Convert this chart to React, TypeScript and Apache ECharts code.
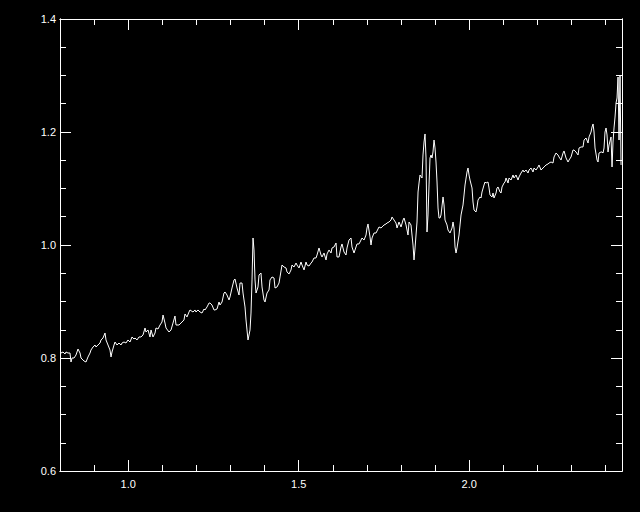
import React, { useEffect, useRef } from "react";
import * as echarts from "echarts";

const wavelength: number[] = [
  0.8029, 0.8088, 0.8147, 0.8176, 0.8235, 0.8293, 0.8323, 0.8352, 0.8411, 0.8469,
  0.8528, 0.8587, 0.8616, 0.8704, 0.8762, 0.8821, 0.8880, 0.8909, 0.8968, 0.9026,
  0.9056, 0.9114, 0.9173, 0.9202, 0.9261, 0.9320, 0.9349, 0.9408, 0.9466, 0.9496,
  0.9525, 0.9584, 0.9613, 0.9672, 0.9730, 0.9789, 0.9818, 0.9877, 0.9935, 0.9994,
  1.0053, 1.0111, 1.0170, 1.0199, 1.0258, 1.0317, 1.0375, 1.0434, 1.0493, 1.0522,
  1.0581, 1.0639, 1.0669, 1.0727, 1.0786, 1.0815, 1.0874, 1.0933, 1.0991, 1.1021,
  1.1079, 1.1109, 1.1196, 1.1255, 1.1314, 1.1372, 1.1402, 1.1490, 1.1548, 1.1636,
  1.1666, 1.1724, 1.1783, 1.1812, 1.1900, 1.1959, 1.1988, 1.2047, 1.2106, 1.2164,
  1.2223, 1.2252, 1.2311, 1.2370, 1.2399, 1.2457, 1.2516, 1.2545, 1.2604, 1.2663,
  1.2692, 1.2751, 1.2809, 1.2839, 1.2897, 1.2956, 1.2985, 1.3044, 1.3103, 1.3132,
  1.3191, 1.3249, 1.3279, 1.3337, 1.3367, 1.3425, 1.3455, 1.3484, 1.3513, 1.3572,
  1.3601, 1.3631, 1.3660, 1.3689, 1.3719, 1.3748, 1.3806, 1.3836, 1.3894, 1.3924,
  1.3982, 1.4012, 1.4070, 1.4129, 1.4158, 1.4217, 1.4276, 1.4305, 1.4364, 1.4422,
  1.4452, 1.4510, 1.4569, 1.4628, 1.4657, 1.4716, 1.4774, 1.4804, 1.4862, 1.4921,
  1.4950, 1.5009, 1.5067, 1.5097, 1.5156, 1.5214, 1.5244, 1.5302, 1.5361, 1.5390,
  1.5449, 1.5507, 1.5537, 1.5595, 1.5654, 1.5683, 1.5742, 1.5801, 1.5830, 1.5889,
  1.5947, 1.5977, 1.6035, 1.6094, 1.6123, 1.6182, 1.6240, 1.6270, 1.6328, 1.6387,
  1.6416, 1.6475, 1.6534, 1.6563, 1.6622, 1.6680, 1.6710, 1.6768, 1.6827, 1.6856,
  1.6915, 1.6974, 1.7003, 1.7032, 1.7091, 1.7120, 1.7150, 1.7208, 1.7267, 1.7296,
  1.7355, 1.7413, 1.7443, 1.7501, 1.7560, 1.7589, 1.7648, 1.7707, 1.7736, 1.7795,
  1.7853, 1.7883, 1.7941, 1.8000, 1.8059, 1.8088, 1.8147, 1.8205, 1.8235, 1.8293,
  1.8352, 1.8381, 1.8411, 1.8469, 1.8499, 1.8528, 1.8557, 1.8616, 1.8645, 1.8675,
  1.8704, 1.8733, 1.8762, 1.8792, 1.8821, 1.8850, 1.8880, 1.8909, 1.8938, 1.8968,
  1.8997, 1.9026, 1.9056, 1.9085, 1.9114, 1.9144, 1.9173, 1.9232, 1.9261, 1.9290,
  1.9349, 1.9378, 1.9437, 1.9496, 1.9525, 1.9554, 1.9584, 1.9613, 1.9642, 1.9701,
  1.9730, 1.9760, 1.9818, 1.9848, 1.9877, 1.9935, 1.9965, 1.9994, 2.0023, 2.0082,
  2.0111, 2.0141, 2.0199, 2.0229, 2.0258, 2.0317, 2.0346, 2.0375, 2.0434, 2.0463,
  2.0493, 2.0551, 2.0581, 2.0610, 2.0669, 2.0698, 2.0727, 2.0786, 2.0815, 2.0845,
  2.0903, 2.0933, 2.0962, 2.1021, 2.1050, 2.1079, 2.1138, 2.1167, 2.1226, 2.1284,
  2.1314, 2.1372, 2.1431, 2.1460, 2.1519, 2.1578, 2.1607, 2.1666, 2.1724, 2.1754,
  2.1812, 2.1871, 2.1900, 2.1959, 2.2018, 2.2047, 2.2106, 2.2164, 2.2194, 2.2252,
  2.2311, 2.2340, 2.2399, 2.2457, 2.2487, 2.2545, 2.2604, 2.2633, 2.2692, 2.2751,
  2.2780, 2.2839, 2.2897, 2.2927, 2.2985, 2.3044, 2.3073, 2.3132, 2.3191, 2.3220,
  2.3279, 2.3337, 2.3367, 2.3425, 2.3484, 2.3513, 2.3572, 2.3601, 2.3631, 2.3660,
  2.3689, 2.3748, 2.3777, 2.3806, 2.3865, 2.3894, 2.3924, 2.3953, 2.3982, 2.4012,
  2.4041, 2.4070, 2.4100, 2.4158, 2.4188, 2.4217, 2.4246, 2.4276, 2.4305, 2.4334,
  2.4364, 2.4393, 2.4422, 2.4452,
];

const flux: number[] = [
  0.8088, 0.8106, 0.8071, 0.8106, 0.8088, 0.8088, 0.7929, 0.8000, 0.8000, 0.8053,
  0.8159, 0.8088, 0.8000, 0.7947, 0.7929, 0.8018, 0.8088, 0.8142, 0.8195, 0.8230,
  0.8195, 0.8230, 0.8265, 0.8319, 0.8354, 0.8442, 0.8319, 0.8230, 0.8142, 0.8018,
  0.8106, 0.8230, 0.8283, 0.8230, 0.8265, 0.8230, 0.8265, 0.8283, 0.8265, 0.8319,
  0.8283, 0.8372, 0.8336, 0.8354, 0.8319, 0.8372, 0.8372, 0.8407, 0.8531, 0.8460,
  0.8496, 0.8372, 0.8496, 0.8372, 0.8442, 0.8531, 0.8513, 0.8584, 0.8637, 0.8761,
  0.8619, 0.8531, 0.8460, 0.8496, 0.8619, 0.8743, 0.8584, 0.8584, 0.8619, 0.8673,
  0.8779, 0.8726, 0.8814, 0.8850, 0.8814, 0.8850, 0.8814, 0.8850, 0.8814, 0.8796,
  0.8867, 0.8850, 0.8903, 0.8973, 0.8973, 0.8938, 0.8850, 0.8850, 0.8867, 0.8991,
  0.8938, 0.8991, 0.9150, 0.9168, 0.9115, 0.9027, 0.9080, 0.9239, 0.9381, 0.9398,
  0.9239, 0.9115, 0.9327, 0.9327, 0.9150, 0.8903, 0.8673, 0.8496, 0.8319, 0.8496,
  0.8796, 0.9381, 1.0124, 0.9912, 0.9381, 0.9150, 0.9257, 0.9469, 0.9504, 0.9257,
  0.9027, 0.8991, 0.9150, 0.9204, 0.9381, 0.9434, 0.9416, 0.9239, 0.9257, 0.9327,
  0.9434, 0.9646, 0.9611, 0.9593, 0.9522, 0.9487, 0.9558, 0.9646, 0.9611, 0.9681,
  0.9646, 0.9593, 0.9699, 0.9646, 0.9558, 0.9699, 0.9646, 0.9628, 0.9681, 0.9699,
  0.9770, 0.9770, 0.9823, 0.9947, 0.9823, 0.9788, 0.9858, 0.9735, 0.9841, 0.9912,
  0.9858, 0.9947, 0.9965, 1.0035, 0.9788, 0.9788, 0.9965, 1.0018, 0.9876, 0.9823,
  0.9947, 1.0088, 1.0124, 0.9965, 0.9858, 0.9965, 1.0018, 1.0018, 1.0088, 1.0124,
  1.0088, 1.0177, 1.0301, 1.0372, 1.0142, 1.0000, 1.0124, 1.0212, 1.0212, 1.0248,
  1.0319, 1.0301, 1.0319, 1.0354, 1.0372, 1.0389, 1.0407, 1.0442, 1.0496, 1.0442,
  1.0389, 1.0301, 1.0407, 1.0319, 1.0442, 1.0478, 1.0354, 1.0177, 1.0407, 1.0354,
  0.9999, 0.9735, 0.9947, 1.0407, 1.0938, 1.1097, 1.1239, 1.1186, 1.1593, 1.1823,
  1.1965, 1.1540, 1.0230, 1.0531, 1.1062, 1.1540, 1.1593, 1.1540, 1.1646, 1.1858,
  1.1717, 1.1469, 1.1115, 1.0655, 1.0478, 1.0478, 1.0531, 1.0850, 1.0708, 1.0442,
  1.0354, 1.0265, 1.0212, 1.0301, 1.0407, 1.0301, 0.9965, 0.9858, 0.9947, 1.0177,
  1.0354, 1.0531, 1.0708, 1.0885, 1.1062, 1.1292, 1.1363, 1.1239, 1.1150, 1.1009,
  1.0761, 1.0619, 1.0584, 1.0673, 1.0796, 1.0850, 1.0832, 1.0938, 1.1062, 1.1115,
  1.1097, 1.1115, 1.1009, 1.0885, 1.0850, 1.0920, 1.0832, 1.0920, 1.1009, 1.1027,
  1.0938, 1.0920, 1.1027, 1.1097, 1.1115, 1.1186, 1.1097, 1.1186, 1.1150, 1.1239,
  1.1186, 1.1239, 1.1150, 1.1204, 1.1274, 1.1327, 1.1292, 1.1327, 1.1274, 1.1327,
  1.1363, 1.1292, 1.1363, 1.1327, 1.1381, 1.1416, 1.1327, 1.1363, 1.1381, 1.1416,
  1.1434, 1.1451, 1.1469, 1.1451, 1.1558, 1.1628, 1.1593, 1.1558, 1.1504, 1.1628,
  1.1664, 1.1540, 1.1469, 1.1504, 1.1558, 1.1681, 1.1681, 1.1646, 1.1593, 1.1717,
  1.1735, 1.1735, 1.1858, 1.1894, 1.1805, 1.1912, 1.2000, 1.2088, 1.2142, 1.2000,
  1.1717, 1.1504, 1.1469, 1.1628, 1.1646, 1.1646, 1.1628, 1.1717, 1.2000, 1.2071,
  1.1947, 1.1646, 1.1770, 1.1912, 1.1381, 1.1823, 1.2071, 1.2265, 1.2513, 1.2602,
  1.2973, 1.1858, 1.2991, 1.1416,
];

const xMin = 0.8;
const xMax = 2.448;
const yMin = 0.6;
const yMax = 1.4;
const xMajorTicks: number[] = [1.0, 1.5, 2.0];
const xMinorStep = 0.1;
const yMajorStep = 0.2;
const yMinorStep = 0.05;

export default function App() {
  const ref = useRef<HTMLDivElement>(null);

  useEffect(() => {
    if (!ref.current) return;
    const chart = echarts.init(ref.current, null, { renderer: "svg" });
    const white = "#ffffff";
    const font = "'Liberation Sans', Arial, sans-serif";
    const baseX = {
      type: "value" as const,
      min: xMin,
      max: xMax,
      splitLine: { show: false },
      axisLine: { show: true, onZero: false, lineStyle: { color: white, width: 1 } },
    };
    const baseY = {
      type: "value" as const,
      min: yMin,
      max: yMax,
      splitLine: { show: false },
      axisLine: { show: true, onZero: false, lineStyle: { color: white, width: 1 } },
    };
    chart.setOption({
      animation: false,
      backgroundColor: "#000000",
      grid: { left: 60, top: 19, right: 18, bottom: 41, containLabel: false },
      xAxis: [
        {
          ...baseX,
          position: "bottom",
          interval: xMinorStep,
          axisTick: { show: true, inside: true, length: 6, lineStyle: { color: white } },
          axisLabel: { show: false },
        },
        {
          ...baseX,
          position: "bottom",
          axisTick: { show: true, inside: true, length: 11, customValues: xMajorTicks, lineStyle: { color: white } },
          axisLabel: {
            show: true,
            customValues: xMajorTicks,
            formatter: (v: number) => v.toFixed(1),
            color: white,
            fontSize: 11,
            fontFamily: font,
            margin: 7,
          },
        },
        {
          ...baseX,
          position: "top",
          interval: xMinorStep,
          axisTick: { show: true, inside: true, length: 6, lineStyle: { color: white } },
          axisLabel: { show: false },
        },
        {
          ...baseX,
          position: "top",
          axisTick: { show: true, inside: true, length: 11, customValues: xMajorTicks, lineStyle: { color: white } },
          axisLabel: { show: false, customValues: xMajorTicks },
        },
      ],
      yAxis: [
        {
          ...baseY,
          position: "left",
          interval: yMinorStep,
          axisTick: { show: true, inside: true, length: 6, lineStyle: { color: white } },
          axisLabel: { show: false },
        },
        {
          ...baseY,
          position: "left",
          interval: yMajorStep,
          axisTick: { show: true, inside: true, length: 11, lineStyle: { color: white } },
          axisLabel: {
            show: true,
            formatter: (v: number) => v.toFixed(1),
            color: white,
            fontSize: 11,
            fontFamily: font,
            margin: 4,
          },
        },
        {
          ...baseY,
          position: "right",
          interval: yMinorStep,
          axisTick: { show: true, inside: true, length: 6, lineStyle: { color: white } },
          axisLabel: { show: false },
        },
        {
          ...baseY,
          position: "right",
          interval: yMajorStep,
          axisTick: { show: true, inside: true, length: 11, lineStyle: { color: white } },
          axisLabel: { show: false },
        },
      ],
      series: [
        {
          type: "line",
          xAxisIndex: 0,
          yAxisIndex: 0,
          data: wavelength.map((w, i) => [w, flux[i]]),
          showSymbol: false,
          symbol: "none",
          lineStyle: { color: white, width: 1 },
          clip: true,
        },
      ],
    });
    return () => chart.dispose();
  }, []);

  return (
    <div
      ref={ref}
      style={{ position: "fixed", left: 0, top: 0, width: 640, height: 512, background: "#000" }}
    />
  );
}
